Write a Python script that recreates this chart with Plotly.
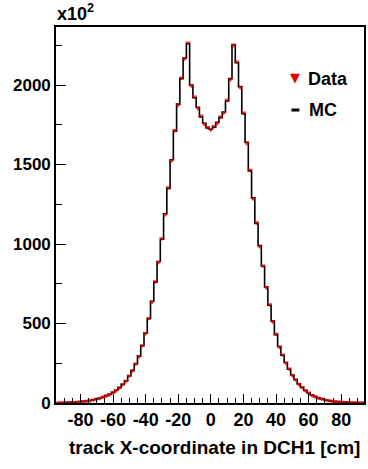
import plotly.graph_objects as go

# bin centres (cm)
x_centres = list(range(-94, 95, 2))

# MC histogram contents (units of 10^2)
mc_values = [
    1, 2, 2, 3, 4, 5, 6, 8, 10, 13,
    16, 20, 25, 31, 38, 46, 55, 66, 80, 96,
    116, 140, 170, 205, 245, 295, 360, 440, 530, 640,
    760, 890, 1030, 1190, 1350, 1530, 1710, 1880, 2040, 2170,
    2260, 2000, 1920, 1860, 1800, 1760, 1730, 1722, 1735, 1765,
    1795, 1830, 1900, 2040, 2255, 2140, 1990, 1820, 1640, 1460,
    1290, 1130, 990, 860, 730, 615, 515, 430, 355, 300,
    255, 212, 176, 146, 120, 98, 79, 63, 50, 40,
    32, 25, 20, 16, 12, 9, 7, 6, 5, 4,
    3, 2, 2, 1, 1,
]

# Data histogram contents (units of 10^2)
data_values = [
    1, 2, 3, 3, 4, 5, 7, 8, 10, 12,
    16, 21, 25, 30, 39, 47, 54, 67, 79, 97,
    118, 139, 172, 203, 247, 293, 362, 437, 533, 636,
    764, 886, 1035, 1186, 1355, 1526, 1716, 1874, 2046, 2165,
    2266, 1995, 1926, 1854, 1806, 1755, 1735, 1718, 1740, 1760,
    1800, 1826, 1906, 2035, 2250, 2146, 1984, 1826, 1634, 1466,
    1285, 1136, 985, 864, 726, 619, 511, 434, 352, 303,
    252, 215, 174, 148, 118, 99, 78, 64, 49, 41,
    31, 26, 19, 16, 13, 9, 8, 6, 5, 4,
    3, 3, 2, 1, 1,
]

y_tick_values = [0, 500, 1000, 1500, 2000]
y_tick_labels = ["0", "500", "1000", "1500", "2000"]
x_tick_values = [-80, -60, -40, -20, 0, 20, 40, 60, 80]
x_tick_labels = ["-80", "-60", "-40", "-20", "0", "20", "40", "60", "80"]

FONT = "Liberation Sans"

fig = go.Figure()
fig.add_trace(go.Scatter(
    x=x_centres, y=mc_values, mode="lines", name="MC",
    line=dict(color="black", width=1.6, shape="hvh"),
    showlegend=False,
))
fig.add_trace(go.Scatter(
    x=x_centres, y=data_values, mode="markers", name="Data",
    marker=dict(symbol="triangle-down", color="rgba(225,0,0,0.8)", size=5),
    showlegend=False,
))

L, R, T, B = 56, 2, 27, 66
W, H = 368, 469
pw, ph = W - L - R, H - T - B

def px(xp):
    return (xp - L) / pw

def py(yp):
    return (H - B - yp) / ph

fig.update_layout(
    width=W, height=H,
    margin=dict(l=L, r=R, t=T, b=B, pad=0),
    paper_bgcolor="white", plot_bgcolor="white",
    font=dict(family=FONT, size=17, color="black", weight="bold"),
    showlegend=False,
)
fig.update_xaxes(
    range=[-95, 94], tickvals=x_tick_values, ticktext=x_tick_labels,
    ticks="inside", ticklen=9,
    tickwidth=1.3, tickcolor="black", showgrid=False, zeroline=False,
    showline=True, linecolor="black", linewidth=1.6, mirror=True,
    minor=dict(dtick=5, ticks="inside", ticklen=5, tickcolor="black", showgrid=False),
    tickfont=dict(size=18, family=FONT, weight="bold"),
)
fig.update_yaxes(
    range=[0, 2365], tickvals=y_tick_values, ticktext=y_tick_labels,
    ticks="inside", ticklen=10,
    tickwidth=1.3, tickcolor="black", showgrid=False, zeroline=False,
    showline=True, linecolor="black", linewidth=1.6, mirror=True,
    minor=dict(dtick=250, ticks="inside", ticklen=6, tickcolor="black", showgrid=False),
    tickfont=dict(size=17, family=FONT, weight="bold"),
)

annotations = [
    dict(text="x10<sup>2</sup>", x=px(55), y=py(26), xref="paper", yref="paper",
         xanchor="left", yanchor="bottom", showarrow=False,
         font=dict(size=18, family=FONT, weight="bold")),
    dict(text="track X-coordinate in DCH1 [cm]", x=px(364), y=py(447), xref="paper", yref="paper",
         xanchor="right", yanchor="middle", showarrow=False,
         font=dict(size=19, family=FONT, weight="bold")),
    dict(text="▼", x=px(297), y=py(78), xref="paper", yref="paper",
         xanchor="center", yanchor="middle", showarrow=False,
         font=dict(size=13, family="DejaVu Sans", color="#e00000")),
    dict(text="Data", x=px(308), y=py(79), xref="paper", yref="paper",
         xanchor="left", yanchor="middle", showarrow=False,
         font=dict(size=18, family=FONT, weight="bold")),
    dict(text="MC", x=px(309), y=py(110), xref="paper", yref="paper",
         xanchor="left", yanchor="middle", showarrow=False,
         font=dict(size=18, family=FONT, weight="bold")),
]
fig.update_layout(annotations=annotations)
fig.add_shape(type="line", xref="paper", yref="paper",
              x0=px(293), x1=px(301), y0=py(110), y1=py(110),
              line=dict(color="black", width=3))

fig.write_html("out.html")
